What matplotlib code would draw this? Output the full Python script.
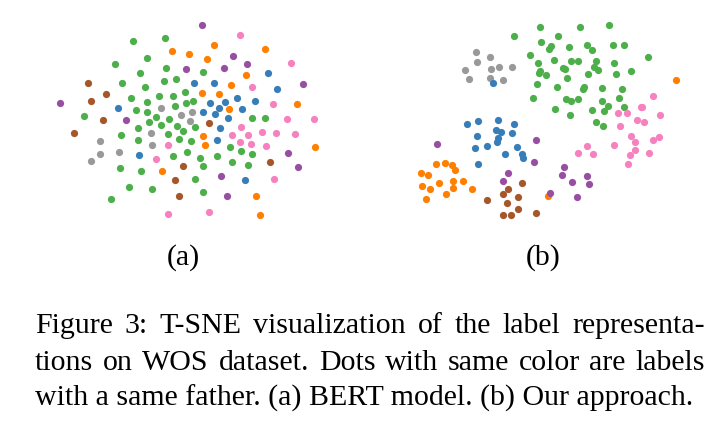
import matplotlib
matplotlib.use("Agg")
import matplotlib.pyplot as plt

# -------------------- Data (t-SNE embeddings) --------------------
# panel (a): BERT model
a_green = [(132.7, 40.7), (165, 37.7), (147.3, 57.7), (115, 64.3), (166, 67.7), (140, 73.3),
           (164.3, 81.3), (176.3, 79), (121.7, 82.7), (145.3, 87.3), (184.7, 92), (131, 97.7),
           (158.7, 95.7), (172.7, 96), (146.7, 102), (186.3, 103), (175, 106), (135.7, 110.3),
           (147, 112.3), (83.7, 116.3), (155.7, 117.3), (169.3, 119.3), (202.7, 71.7),
           (193.3, 101.3), (252, 118.3), (265.3, 118.3), (138.3, 128), (148.7, 121.7),
           (160.7, 125.3), (177.3, 126), (182.7, 130.7), (121, 135), (167.7, 134.3),
           (137.7, 139.7), (178.7, 139), (190.5, 140.7), (187, 152), (173.3, 155.7),
           (119.7, 168.3), (141.3, 171.3), (129.3, 187), (152.3, 189.3), (111, 199.3),
           (195, 127.3), (229.7, 146.7), (240.7, 151), (252, 154.3), (199.7, 158),
           (216.7, 156.3), (231.7, 162.3), (248, 164.7), (202.7, 166), (195.3, 178.7),
           (203, 192.3)]
a_orange = [(171.7, 51), (188.5, 53.5), (213.7, 44.7), (265, 48.7), (206.7, 59), (245.7, 74.7),
            (231.3, 84.7), (202.3, 93.3), (218.7, 93.7), (297, 104.3), (228.7, 109),
            (161.7, 171.3), (203.3, 135.7), (205.3, 145), (314.7, 147.3), (255.7, 195.7),
            (260.3, 215)]
a_purple = [(186, 69.3), (60.3, 103.3), (125.5, 120), (202.3, 24.7), (232.7, 56.3), (223.7, 68),
            (246.7, 64), (303, 84.3), (287.7, 152.7), (297.7, 167), (220.7, 175.7), (227, 195.7)]
a_brown = [(88.3, 83.3), (106.3, 94), (91, 101), (103.3, 119.6), (74, 133), (183.3, 166.3),
           (175.3, 179.7), (179.3, 195.7), (209, 123), (269.7, 162)]
a_blue = [(117.7, 107.7), (268, 73.3), (194, 82.7), (213.7, 83), (277, 89), (237, 97.7),
          (209.7, 103.3), (225.3, 101.7), (254.7, 101.3), (219, 107.7), (241.7, 108.7),
          (202.7, 112.3), (214.7, 114.3), (227.7, 118.3), (139.3, 154.7), (219.7, 128.3),
          (217, 139.7), (244.7, 180.3)]
a_gray = [(161, 107.7), (180.5, 115), (192, 112.3), (189.5, 120.5), (151.3, 133.3), (100, 141.3),
          (152.3, 144.7), (119, 152.3), (100.3, 154.3), (91.3, 160.7)]
a_pink = [(240.3, 34.7), (291.3, 63.3), (251.7, 87), (272.7, 104.3), (286.7, 118.7),
          (314.3, 118.7), (167.7, 145.3), (156, 158.7), (167.7, 214), (241.3, 126.7),
          (232.3, 134.7), (248, 134.7), (262, 132.3), (276.3, 133.3), (295, 134.3), (240.3, 142),
          (251.3, 144.3), (266.3, 146), (273.7, 178.7), (209.3, 212)]

# panel (b): our approach
b_green = [(540.3, 26.7), (513.7, 35.7), (540.7, 42), (529.7, 55.3), (537.7, 62.7), (539.7, 71),
           (539, 73.3), (546.3, 75.3), (537, 84), (533.3, 98.3), (580.3, 26.7), (608.7, 24.7),
           (557.7, 35.7), (551, 46), (549, 49.3), (568.7, 47), (587, 45.3), (591.7, 49.7),
           (613.3, 44.7), (624.3, 45), (554.3, 59.7), (571, 61.3), (578.3, 61.3), (596.3, 61),
           (614, 62.7), (647.7, 56.7), (562.7, 67.7), (565.3, 68.7), (594.3, 67.3),
           (598.3, 70.3), (588, 73.7), (616.3, 74.3), (630.7, 71.3), (566.7, 78.3),
           (556.7, 87), (583.7, 87), (583, 88.7), (602.3, 88), (622, 88.7), (566.3, 99),
           (571, 101.3), (577.7, 99.3), (601.7, 100.7), (619, 97.7), (554.7, 109.3),
           (592.3, 109.7), (603.7, 111), (607.7, 106), (624, 107), (570.3, 114.7),
           (596.3, 121.7), (603.3, 126)]
b_gray = [(476.3, 51.7), (489.7, 56.7), (477, 62.3), (464.7, 70.3), (490.7, 68.7), (499.3, 67),
          (511.7, 67), (469.3, 78.7), (489.7, 77.7), (503.3, 80)]
b_blue = [(493.3, 82.7), (467.3, 123.7), (478.3, 121.3), (498.3, 120.3), (514.3, 123.7),
          (496.3, 129.7), (501.3, 131.7), (512.3, 133.3), (476.7, 135.7), (498, 138),
          (496.7, 142.3), (487.3, 146), (474.7, 147.7), (517.3, 147.3), (505, 153.7),
          (521.7, 153.7), (523.3, 157.7), (478.3, 164)]
b_orange = [(675.7, 79.7), (435.7, 164.3), (445, 163), (452.3, 165), (455.3, 170), (421.3, 173.3),
            (428.3, 175), (439.3, 182.7), (452.7, 181), (463.3, 180.7), (421.7, 186.3),
            (430, 188.7), (453, 187.7), (471.7, 189), (446, 194.3), (426.3, 199.3), (548.3, 196)]
b_purple = [(437, 144.3), (535.7, 140), (534, 162.3), (508, 173), (503, 180.7), (563.7, 166.7),
            (562, 175), (586.7, 176.3), (571.7, 182.3), (589.3, 183.7), (550, 192.7),
            (577.3, 197.3)]
b_brown = [(521.7, 182.7), (507.7, 188.7), (502.7, 194.3), (517.7, 196.7), (486.7, 200.3),
           (507.3, 203.3), (518, 209), (503, 214.7), (511, 215), (535.7, 213)]
b_pink = [(652.7, 95.7), (640.7, 107.3), (642, 107.3), (617.7, 113.3), (627, 113), (659.7, 114.7),
          (636.7, 120), (643.7, 122), (619.7, 126.3), (631.3, 135.7), (652.7, 140), (659.3, 137),
          (635, 142.3), (614.3, 144.7), (586.7, 146.3), (578.3, 153.3), (593.3, 153.7),
          (635.3, 149.7), (630, 155), (649, 152.7), (628.3, 163.7)]

panel_labels = ["(a)", "(b)"]
caption_lines = [
    "Figure 3:  T-SNE visualization of the label representa-",
    "tions on WOS dataset. Dots with same color are labels",
    "with a same father. (a) BERT model. (b) Our approach.",
]

# Set1-like colours
colors = {
    "green": "#4daf4a",
    "orange": "#ff7f00",
    "purple": "#984ea3",
    "brown": "#a65628",
    "blue": "#377eb8",
    "gray": "#999999",
    "pink": "#f781bf",
}

W, H = 724, 422
fig = plt.figure(figsize=(W / 100, H / 100), dpi=100)
serif = ["Liberation Serif", "DejaVu Serif"]
fs = 21.5

ax_a = fig.add_axes([50 / W, 1 - 225 / H, 280 / W, 215 / H])
ax_b = fig.add_axes([405 / W, 1 - 225 / H, 285 / W, 215 / H])

panels = [
    (ax_a, (50, 330), [("green", a_green), ("orange", a_orange), ("purple", a_purple),
                       ("brown", a_brown), ("blue", a_blue), ("gray", a_gray), ("pink", a_pink)]),
    (ax_b, (405, 690), [("green", b_green), ("gray", b_gray), ("blue", b_blue),
                        ("orange", b_orange), ("purple", b_purple), ("brown", b_brown),
                        ("pink", b_pink)]),
]

for ax, xlim, groups in panels:
    for name, pts in groups:
        xs = [p[0] for p in pts]
        ys = [p[1] for p in pts]
        ax.scatter(xs, ys, s=27, color=colors[name], linewidths=0)
    ax.set_xlim(*xlim)
    ax.set_ylim(225, 10)
    ax.axis("off")

# panel labels
fig.text(183 / W, 1 - 265 / H, panel_labels[0], ha="center", va="baseline",
         fontsize=fs, family=serif)
fig.text(543 / W, 1 - 265 / H, panel_labels[1], ha="center", va="baseline",
         fontsize=fs, family=serif)

# caption, justified like the paper
left, right = 35, 705
baselines = [333, 370, 406]
renderer = fig.canvas.get_renderer()
for k, (line, yb) in enumerate(zip(caption_lines, baselines)):
    y = 1 - yb / H
    if k == len(caption_lines) - 1:
        fig.text(left / W, y, line, ha="left", va="baseline", fontsize=fs, family=serif)
        continue
    words = line.split()
    texts = [fig.text(0, y, w, ha="left", va="baseline", fontsize=fs, family=serif)
             for w in words]
    widths = [t.get_window_extent(renderer).width for t in texts]
    gap = (right - left - sum(widths)) / (len(words) - 1)
    x = left
    for t, w in zip(texts, widths):
        t.set_x(x / W)
        x += w + gap

fig.savefig("out.png", dpi=100)
